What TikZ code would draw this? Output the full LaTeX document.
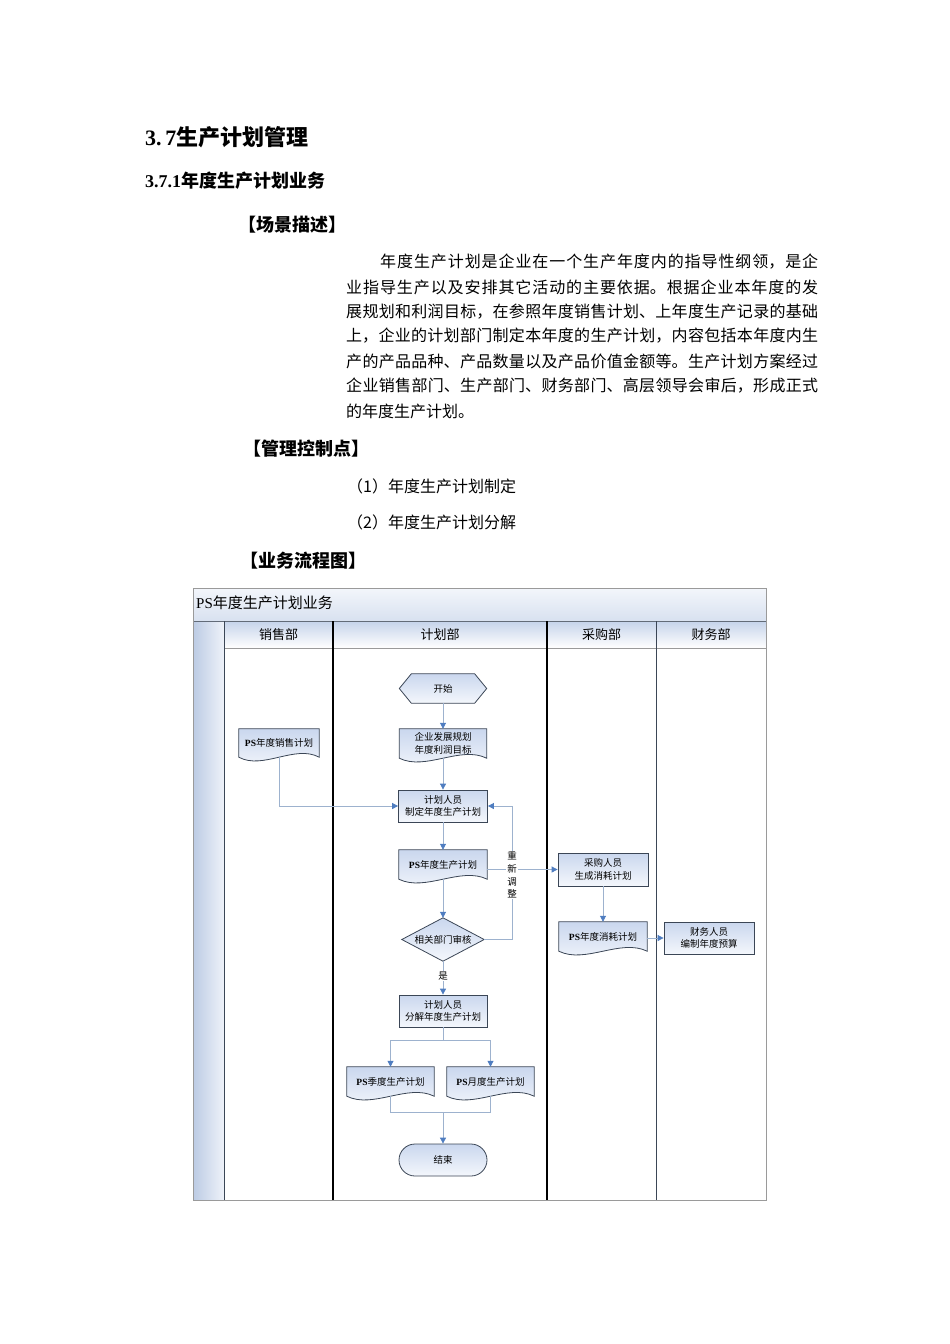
\documentclass[tikz,border=0pt]{standalone}
\usepackage{fontspec}
\setmainfont{Noto Sans CJK SC}
\newfontfamily\lat{Liberation Serif}
\usetikzlibrary{calc,arrows.meta,shapes.geometric,shapes.misc}
\XeTeXlinebreaklocale "zh"
\XeTeXlinebreakskip=0pt plus 3pt
\pgfdeclarelayer{back}\pgfdeclarelayer{mid}\pgfsetlayers{back,mid,main}
\definecolor{lineblue}{HTML}{9DB2CE}
\definecolor{arrowblue}{HTML}{4F7DC0}
\definecolor{shapeedge}{HTML}{3B4656}
\definecolor{fillA}{HTML}{CAD7EE}
\definecolor{fillB}{HTML}{F4F7FC}
\definecolor{bandA}{HTML}{F3F6FB}
\definecolor{bandB}{HTML}{D8E1F0}
\definecolor{headA}{HTML}{C5D3EA}
\definecolor{stripA}{HTML}{BCCBE4}
\definecolor{stripB}{HTML}{EEF2F9}
\definecolor{framegray}{HTML}{9A9A9A}
\tikzset{
  shp/.style={draw=shapeedge, line width=0.8pt, top color=fillA, bottom color=fillB},
  dfont/.style={font=\fontsize{9.5}{12.5}\selectfont},
  boxn/.style={rectangle, shp, dfont, align=center, minimum width=89pt, minimum height=32pt, inner sep=1pt},
  docn/.style={rectangle, dfont, align=center, minimum width=88pt, minimum height=29pt, inner sep=1pt},
  hexn/.style={rectangle, dfont, minimum width=87pt, minimum height=29pt, inner sep=1pt},
  reviewn/.style={rectangle, dfont, minimum width=82pt, minimum height=43pt, inner sep=0pt},
  endn/.style={rounded rectangle, shp, dfont, minimum width=90pt, minimum height=32pt, inner sep=1pt},
  line/.style={draw=lineblue, line width=0.8pt},
  conn/.style={line, -{Triangle[length=6pt,width=6pt,color=arrowblue]}},
  para/.style={anchor=west, inner sep=0pt, font=\fontsize{16}{20}\selectfont},
  head/.style={anchor=west, inner sep=0pt, font=\fontsize{18}{22}\selectfont\bfseries},
  lanelab/.style={inner sep=0pt, font=\fontsize{13}{15}\selectfont},
  lbl/.style={fill=white, inner sep=1pt, dfont, align=center}
}
\newcommand\docout[1]{\begin{pgfonlayer}{mid}\draw[shp] (#1.north west) -- (#1.north east) -- (#1.south east) .. controls ($(#1.south east)!0.3!(#1.south west)+(0,-13)$) and ($(#1.south east)!0.7!(#1.south west)+(0,13)$) .. (#1.south west) -- cycle;\end{pgfonlayer}}
\newcommand\hexout[1]{\begin{pgfonlayer}{mid}\draw[shp] (#1.west) -- ([xshift=12pt]#1.north west) -- ([xshift=-12pt]#1.north east) -- (#1.east) -- ([xshift=-12pt]#1.south east) -- ([xshift=12pt]#1.south west) -- cycle;\end{pgfonlayer}}
\newcommand\diaout[1]{\begin{pgfonlayer}{mid}\draw[shp] (#1.west) -- (#1.north) -- (#1.east) -- (#1.south) -- cycle;\end{pgfonlayer}}
\newcommand\PS{{\lat\bfseries PS}}
\newcommand\jline[1]{\parbox{472pt}{\parfillskip=0pt\relax #1}}
\begin{document}
\begin{tikzpicture}[x=1pt,y=-1pt]
\useasboundingbox (0,0) rectangle (950,1344);
% ---- text part ----
\node[anchor=west, inner sep=0pt, font=\fontsize{22}{26}\selectfont\bfseries] (h1) at (145,137) {{\lat 3.\,7}生产计划管理};
\node[head] (h2) at (145,181) {{\lat\bfseries 3.7.1}年度生产计划业务};
\node[head] (h3) at (238,225) {【场景描述】};
\node[para] (p1) at (346,262) {\jline{\hspace*{34pt}年度生产计划是企业在一个生产年度内的指导性纲领，是企}};
\node[para] (p2) at (346,287) {\jline{业指导生产以及安排其它活动的主要依据。根据企业本年度的发}};
\node[para] (p3) at (346,312) {\jline{展规划和利润目标，在参照年度销售计划、上年度生产记录的基础}};
\node[para] (p4) at (346,336) {\jline{上，企业的计划部门制定本年度的生产计划，内容包括本年度内生}};
\node[para] (p5) at (346,361) {\jline{产的产品品种、产品数量以及产品价值金额等。生产计划方案经过}};
\node[para] (p6) at (346,386) {\jline{企业销售部门、生产部门、财务部门、高层领导会审后，形成正式}};
\node[para] (p7) at (346,411) {的年度生产计划。};
\node[head] (h4) at (243,449) {【管理控制点】};
\node[para] (c1) at (347,486) {（1）年度生产计划制定};
\node[para] (c2) at (347,522) {（2）年度生产计划分解};
\node[head] (h5) at (240,561) {【业务流程图】};
% ---- swimlane frame ----
\begin{pgfonlayer}{back}
\shade[top color=bandA, bottom color=bandB] (193,588) rectangle (766,621);
\shade[left color=stripA, right color=stripB] (193,621) rectangle (224,1200);
\foreach \a/\b in {224/333,333/547,547/656,656/766}{
  \shade[top color=headA, bottom color=white] (\a,621) rectangle (\b,648);}
\draw[framegray, line width=0.6pt] (224,648) -- (766,648);
\draw[shapeedge!80, line width=0.8pt] (193,621) -- (766,621);
\draw[shapeedge, line width=0.8pt] (224,621) -- (224,1200);
\draw[black, line width=1.3pt] (333,621) -- (333,1200);
\draw[black, line width=1.3pt] (547,621) -- (547,1200);
\draw[shapeedge, line width=0.9pt] (656,621) -- (656,1200);
\draw[framegray, line width=1pt] (193,588) rectangle (766,1200);
\end{pgfonlayer}
\node[anchor=west, inner sep=0pt, font=\fontsize{15}{18}\selectfont] (title) at (196,603) {{\lat PS}年度生产计划业务};
\node[lanelab] (l1) at (278.5,634.5) {销售部};
\node[lanelab] (l2) at (440,634.5) {计划部};
\node[lanelab] (l3) at (601.5,634.5) {采购部};
\node[lanelab] (l4) at (711,634.5) {财务部};
% ---- flow shapes ----
\node[hexn] (start) at (443,688.5) {开始}; \hexout{start}
\node[docn, minimum width=87pt] (goal) at (443,743.5) {企业发展规划\\年度利润目标}; \docout{goal}
\node[docn, minimum width=80pt, minimum height=28pt] (sales) at (279,743) {\PS 年度销售计划}; \docout{sales}
\node[boxn] (make) at (443,806) {计划人员\\制定年度生产计划};
\node[docn] (ps) at (443,864.5) {\PS 年度生产计划}; \docout{ps}
\node[reviewn] (review) at (443,939.5) {相关部门审核}; \diaout{review}
\node[boxn, minimum width=90pt, minimum height=33pt] (buy) at (603,869.5) {采购人员\\生成消耗计划};
\node[docn] (cons) at (603,936.5) {\PS 年度消耗计划}; \docout{cons}
\node[boxn, minimum width=90pt] (fin) at (709,938) {财务人员\\编制年度预算};
\node[boxn, minimum width=88pt] (split) at (443,1011) {计划人员\\分解年度生产计划};
\node[docn, minimum width=87pt] (q) at (390.5,1081.5) {\PS 季度生产计划}; \docout{q}
\node[docn, minimum width=87pt] (m) at (490.5,1081.5) {\PS 月度生产计划}; \docout{m}
\node[endn] (end) at (443,1160) {结束};
% ---- connectors ----
\draw[conn] (start.south) -- (goal.north);
\draw[conn] (goal.south) -- (make.north);
\draw[conn] (sales.south) |- (make.west);
\draw[conn] (make.south) -- (ps.north);
\draw[conn] (ps.south) -- (review.north);
\coordinate (rw) at (512,939.5);
\draw[conn] (review.east) -- (rw) |- (make.east);
\draw[conn] (ps.east |- buy.west) -- (buy.west);
\node[lbl, font=\fontsize{9.5}{12.7}\selectfont] (redo) at (512,875) {重\\新\\调\\整};
\draw[conn] (buy.south) -- (cons.north);
\draw[conn] (cons.east |- fin.west) -- (fin.west);
\draw[conn] (review.south) -- (split.north) node[lbl, pos=0.45] (yes) {是};
\coordinate (sb) at (443,1040);
\draw[line] (split.south) -- (sb);
\draw[conn] (sb) -| (q.north);
\draw[conn] (sb) -| (m.north);
\coordinate (mj) at (443,1112);
\draw[line] (q.south) |- (mj);
\draw[line] (m.south) |- (mj);
\draw[conn] (mj) -- (end.north);
\end{tikzpicture}
\end{document}
